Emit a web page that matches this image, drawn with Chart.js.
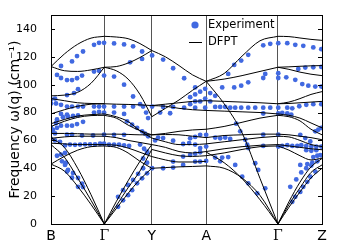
<!DOCTYPE html>
<html>
<head>
<meta charset="utf-8">
<script src="https://cdn.jsdelivr.net/npm/chart.js@4"></script>
<style>
  html, body { margin: 0; padding: 0; background: #fff; }
</style>
</head>
<body>
<canvas id="phononChart" width="339" height="248"></canvas>
<script>
// high-symmetry points along the path
const kLabels = ['B', 'Γ', 'Y', 'A', 'Γ', 'Z'];
const kPos = [0, 53.3, 100.7, 155, 226.7, 270.7];
const yTicks = [0, 20, 40, 60, 80, 100, 120, 140];

// DFPT bands, values read at 0, 1/4, 1/2, 3/4, 1 of each segment
const dfptBG = [
  [113, 122, 129, 133.4, 134.7],
  [113, 110, 109.5, 110.6, 112.5],
  [92, 92.5, 94.5, 101, 112.5],
  [90, 88.5, 87, 86.5, 86.3],
  [79, 82, 84.5, 86, 86.3],
  [72, 75, 77.5, 78.5, 79],
  [70, 73.7, 76.5, 77.8, 78],
  [65, 65, 64.8, 64.5, 64.5],
  [61.5, 62.5, 63, 63, 63],
  [58, 57.5, 57, 57, 57],
  [43, 48.5, 53, 55.5, 56],
  [62, 55, 40, 21, 0],
  [57, 48, 33, 17, 0],
  [43, 38, 27, 14, 0]
];
const dfptGY = [
  [134.7, 134.2, 133, 129.5, 124.5],
  [112.5, 113, 115.5, 119.5, 124.5],
  [112.5, 110, 104, 93, 77],
  [86.3, 86, 85.8, 85.5, 85],
  [79, 77, 73.5, 67, 61.7],
  [78, 76, 71, 67, 64],
  [64.5, 64.5, 64.3, 64, 64],
  [63, 62, 60, 58.5, 57],
  [57, 56.5, 54.5, 51.5, 48.4],
  [56, 55, 51, 45, 40],
  [0, 16, 31, 45, 57],
  [0, 13, 26, 38, 53.5],
  [0, 11, 22, 32, 40]
];
const dfptYA = [
  [124.5, 120, 113.7, 107, 102.4],
  [77, 83, 89, 96, 102.4],
  [85, 86, 87, 88, 88.5],
  [85, 84.5, 83, 82, 81.5],
  [64, 64.2, 64, 63, 62],
  [64, 65, 66.5, 67.5, 68],
  [61.7, 59, 57, 57, 57.5],
  [57, 55, 52, 51, 52],
  [53.5, 51, 49, 48.5, 49],
  [48.4, 46, 44.5, 44.5, 45],
  [40, 40.5, 41, 41.3, 41.7]
];
const dfptAG = [
  [102.4, 108, 120.5, 131.5, 134.7],
  [102.4, 104, 106.5, 109.5, 112.5],
  [102.4, 86.3, 65.4, 32.7, 0],
  [88.5, 88, 87.5, 87, 86.3],
  [81.5, 81, 80.5, 80, 79],
  [68, 70, 73, 76, 78],
  [62, 63.5, 64, 64.5, 64.5],
  [57.5, 59, 60.5, 62, 63],
  [52, 54, 55.5, 56.5, 57],
  [49, 51, 53.5, 55.5, 56],
  [51.6, 44, 32.6, 17.4, 0],
  [41.7, 40, 33, 20.5, 0]
];
const dfptGZ = [
  [134.7, 134.5, 133.5, 132.5, 131.8],
  [112.5, 112.8, 113.2, 113.5, 113.7],
  [112.5, 111, 109, 107.5, 106.5],
  [86.3, 87.5, 90, 93, 95],
  [86.3, 86.5, 87, 87.5, 88],
  [79, 78, 76, 72.5, 69],
  [78, 77, 74, 68, 64],
  [64.5, 64, 63, 62, 60.5],
  [63, 62.5, 60, 57, 55.6],
  [57, 56, 55, 54, 53.3],
  [56, 53, 49, 46, 47.3],
  [0, 12, 23, 33, 40],
  [0, 14, 26, 37, 42.4],
  [0, 16, 30, 41, 47]
];

// experimental points [path position, frequency]
const expBG = [
  [10,113.4],[21,116.7],[26,120.5],[32,123.8],[43,128.6],[48,130],[53,130],
  [6,107],[10,104.8],[16,103.3],[21,103.3],[26,104.6],[31,106.5],[43,109.4],[48,110],[53,106.5],
  [0,89.5],[4,90],[0,86.5],[5,86.5],[10,85.5],[16,92.5],[23,94],[27,96.8],
  [16,84.3],[21,84.3],[27,84.3],[32,84.3],[43,84.3],[48,84.3],[53,84.3],
  [10,79],[16,78.5],[43,80],[48,80.5],[53,80],
  [6,75],[12,76.6],[17,77],[22,77.5],[27,78],
  [5,72.5],[10,70.6],[16,70.6],[21,70.6],[26,71.7],[32,73.3],
  [16,64.1],[21,64.1],[31,63.5],[42,63.5],[53,64.1],
  [0,69],[2,67.5],[6,69],[0,66],[4,65],[0,61],[4,60],[9,59],
  [14,56.4],[19,57],[24,56.8],[29,57],[34,57.2],[39,57.2],[44,57.2],[49,57.6],[53,57.6],
  [6,49],[10,49.8],[14,51],
  [11,45],[14,42.4],[17,38.8],[22,36.6],[27,33],[31,29],[32,26.5],[16,37.6],[21,33.2],[27,26.7],[15,44]
];
const expGY = [
  [63,129.6],[73,128.9],[82,127.5],[91,123.8],[101,121],
  [79,116],[91,118.5],
  [63,105.8],[73,100],[82,91.5],[89,86],[95,80],[97,76],
  [63,84.3],[73,84.3],[82,84.3],[92,84.3],[101,84.3],
  [63,80],[73,79],
  [76,73.7],[81,71.3],[86,69],[91,66.5],[94,64.8],[97,62.9],
  [63,64],[73,64],
  [58,57],[63,57],[68,57],[73,56.5],[78,56],
  [89,57],[93,54],[96,52],
  [67,12.3],[72,17],[77,20.7],[81,24.3],[86,29.2],[91,32.8],[96,36.4],
  [67,19.5],[72,24.3],[77,28],[82,31.6],[87,36],[92,40],[96,44],[92,47],[96,51]
];
const expYA = [
  [112,118],[122,111.8],[133,104.6],[144,98],
  [139,91],[144,93],[149,95],[154,97],[159,94],[164,92],[149,88],[154,90],[159,88],[139,86],[144,88],
  [112,84],[122,84],[133,83.5],[144,83.5],[154,83.5],
  [109,80],[119,79.5],
  [112,61.7],[122,59.8],[132,57.4],[138,58.1],[144,57],[149,54.5],[155,55.6],
  [139,61.5],[144,62.5],[149,64],[155,64],
  [132,48.4],[139,49.6],[144,50.5],[149,51.5],
  [122,44.8],[132,42.4],[144,44.8],[149,44.8],[155,45.3],
  [101,40],[112,40],[122,40.5],
  [104,60],[107,62]
];
const expAG = [
  [177,107.7],[183,114.2],[190,117.3],[197,121.4],[212,128.2],[219,129.3],[227,129.8],
  [171,98],[183,98],[190,99.3],[197,101.7],[212,104.8],[214,107.7],[227,108.2],[227,104.8],
  [164,84],[169,84],[174,84],[179,83.5],[184,83.5],[190,83.5],[197,83.5],[204,83.5],[212,83.5],[219,83.5],[227,83.5],
  [212,79.3],[227,79.3],
  [185,72],[189,66.5],[194,60.5],[196,56.9],[197,54.5],[204,43.6],[207,38.8],[214,25.6],
  [164,62],[169,61.5],[174,62],[179,61],
  [164,47.7],[171,47.7],[177,48],[169,45],[184,42.4],[191,34],[197,29.2],[206,22],
  [212,64.1],[227,64.1],
  [212,56],[227,55.6]
];
const expGZ = [
  [236,129.8],[244,128.6],[252,127.9],[262,126.7],[270,125.5],
  [235,105.3],[244,103.5],[251,100.4],[257,99.3],[264,98.6],[270,98.6],
  [247,111.3],[254,112.3],[262,112.5],[270,112.7],
  [236,83.5],[241,83],[248,84.5],[255,85.5],[262,86],[270,86],
  [231,79.8],[236,79.3],[240,78.5],
  [264,66.5],[267,67.7],[270,69],
  [249,64],[254,61.7],[259,59.2],
  [231,56],[236,56.6],[241,56],[246,56],[250,56.6],[255,56],[260,55.6],[265,55.6],[270,55.6],
  [255,53],[260,52.5],[265,53],
  [262,48],[266,49],[269,49.5],
  [249,42.4],[256,43],[261,44],[266,45],
  [241,15.9],[244,19.5],[249,23],[252,26.7],[256,30.3],[259,34],[264,37.6],
  [239,26.7],[245,32],[250,37],[255,40],[260,42]
];

const dfptSegments = [dfptBG, dfptGY, dfptYA, dfptAG, dfptGZ];
const fractions = [0, 0.25, 0.5, 0.75, 1];

const datasets = [];
dfptSegments.forEach((bands, s) => {
  const x0 = kPos[s], x1 = kPos[s + 1];
  bands.forEach(band => {
    datasets.push({
      label: 'DFPT',
      data: band.map((v, i) => ({ x: x0 + fractions[i] * (x1 - x0), y: v })),
      showLine: true,
      borderColor: '#000',
      borderWidth: 1,
      pointRadius: 0,
      cubicInterpolationMode: 'monotone',
      fill: false
    });
  });
});
const expAll = [].concat(expBG, expGY, expYA, expAG, expGZ);
datasets.push({
  label: 'Experiment',
  data: expAll.map(p => ({ x: p[0], y: p[1] })),
  pointRadius: 2.4,
  pointBackgroundColor: 'rgb(65,105,225)',
  pointBorderWidth: 0,
  showLine: false
});

// frame, inner ticks and legend
const framePlugin = {
  id: 'frame',
  afterDatasetsDraw(chart) {
    const { ctx, chartArea: a, scales } = chart;
    ctx.save();
    ctx.strokeStyle = '#000';
    ctx.lineWidth = 1;
    ctx.strokeRect(a.left + 0.5, a.top + 0.5, a.right - a.left, a.bottom - a.top);
    yTicks.forEach(t => {
      const y = Math.round(scales.y.getPixelForValue(t)) + 0.5;
      ctx.beginPath();
      ctx.moveTo(a.left, y); ctx.lineTo(a.left + 4, y);
      ctx.moveTo(a.right, y); ctx.lineTo(a.right - 4, y);
      ctx.stroke();
    });
    // legend
    ctx.fillStyle = 'rgb(65,105,225)';
    ctx.beginPath();
    ctx.arc(195, 25, 3.6, 0, Math.PI * 2);
    ctx.fill();
    ctx.beginPath();
    ctx.moveTo(189, 42.5); ctx.lineTo(202, 42.5);
    ctx.stroke();
    ctx.fillStyle = '#000';
    ctx.font = '11.5px "DejaVu Sans"';
    ctx.textBaseline = 'middle';
    ctx.fillText('Experiment', 208, 25);
    ctx.fillText('DFPT', 208, 42.5);
    ctx.restore();
  }
};

const ctx = document.getElementById('phononChart').getContext('2d');
new Chart(ctx, {
  type: 'scatter',
  data: { datasets: datasets },
  options: {
    responsive: false,
    animation: false,
    devicePixelRatio: 1,
    layout: { padding: { top: 15, right: 17, left: 0, bottom: 0 } },
    plugins: { legend: { display: false }, tooltip: { enabled: false } },
    scales: {
      x: {
        type: 'linear',
        min: 0,
        max: kPos[kPos.length - 1],
        afterBuildTicks: scale => { scale.ticks = kPos.map(v => ({ value: v })); },
        afterFit: scale => { scale.height = 24; },
        ticks: {
          callback: (val, idx) => kLabels[idx],
          autoSkip: false,
          maxRotation: 0,
          padding: 4,
          color: '#000',
          font: c => ({
            family: kLabels[c.index] === 'Γ' ? 'DejaVu Serif' : 'DejaVu Sans',
            size: 14
          })
        },
        grid: { color: '#555', lineWidth: 1, drawTicks: false },
        border: { color: '#000' }
      },
      y: {
        min: 0,
        max: 150,
        afterBuildTicks: scale => { scale.ticks = yTicks.map(v => ({ value: v })); },
        afterFit: scale => { scale.width = 51; },
        ticks: {
          padding: 6,
          color: '#000',
          font: { family: 'DejaVu Sans', size: 11 }
        },
        grid: { display: false },
        border: { color: '#000' },
        title: {
          display: true,
          text: 'Frequency ω(q) (cm⁻¹)',
          color: '#000',
          font: { family: 'DejaVu Sans', size: 14 },
          padding: { top: 7, bottom: 0 }
        }
      }
    }
  },
  plugins: [framePlugin]
});
</script>
</body>
</html>
